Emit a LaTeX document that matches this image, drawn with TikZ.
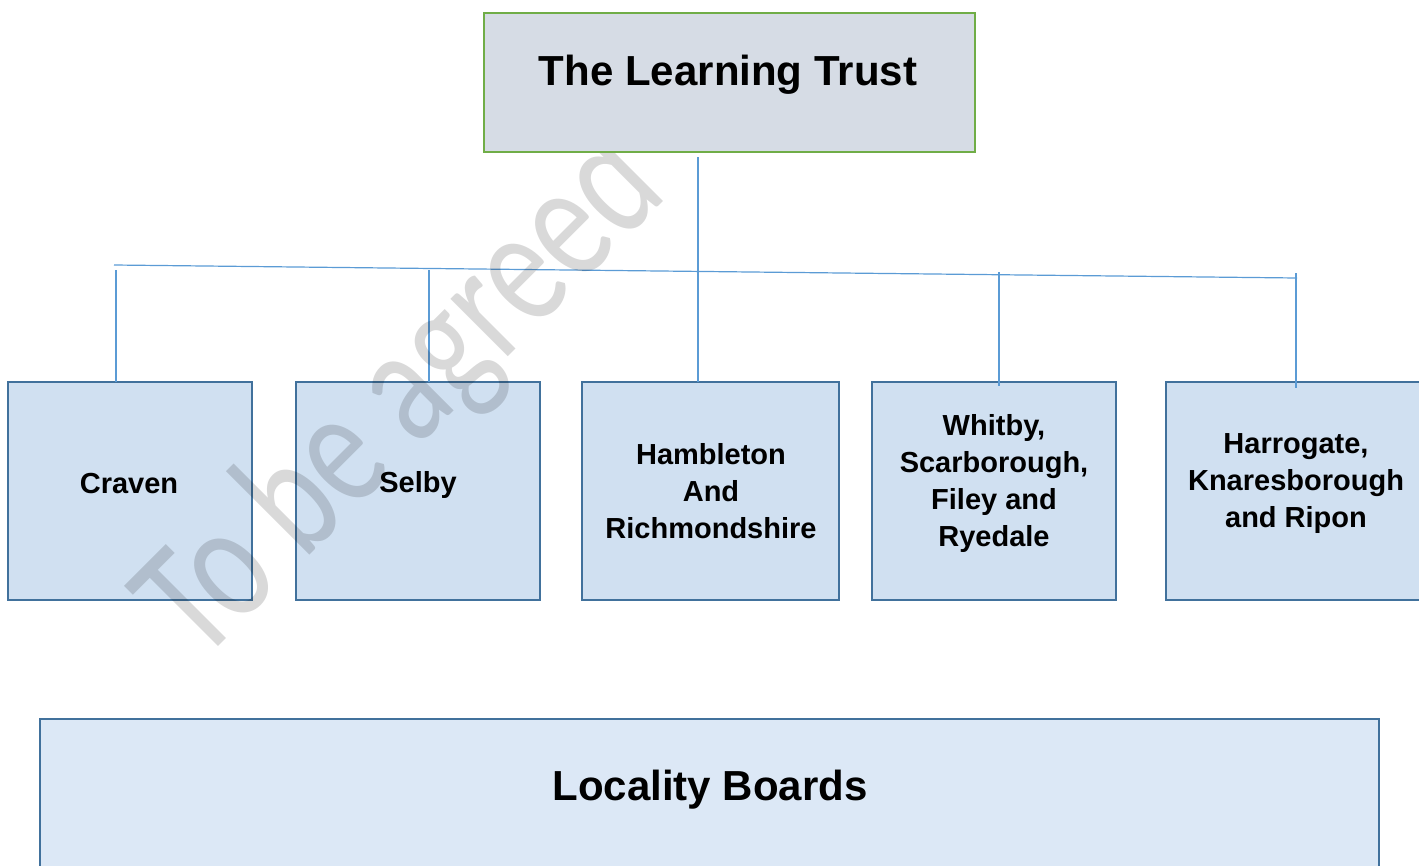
\documentclass[tikz,border=0pt]{standalone}
\usepackage{fontspec}
\setmainfont{Liberation Sans}
\newfontfamily\wmfont{Carlito}
\definecolor{boxborder}{RGB}{65,113,156}
\definecolor{boxfill}{RGB}{208,224,241}
\definecolor{bottomfill}{RGB}{220,232,246}
\definecolor{topfill}{RGB}{214,220,229}
\definecolor{topborder}{RGB}{112,173,71}
\definecolor{connblue}{RGB}{91,155,213}
\begin{document}
\begin{tikzpicture}[x=1pt,y=-1pt,
  box/.style={draw=boxborder, fill=boxfill, line width=2.4pt, minimum width=244pt,
    minimum height=218pt, anchor=north west, inner sep=0pt, outer sep=0pt},
  lbl/.style={font=\fontsize{29}{37}\selectfont\bfseries, align=center, inner sep=0pt},
  big/.style={font=\fontsize{42}{50}\selectfont\bfseries, inner sep=0pt, anchor=base},
  conn/.style={draw=connblue, line width=1.2pt},
  wmark/.style={font=\wmfont\fontsize{170}{170}\selectfont, text=black, text opacity=0.15,
    inner sep=0pt, anchor=base west}]
\useasboundingbox (0,0) rectangle (1419,865);

% locality boxes
\node[box] (craven) at (8,382) {};
\node[box] (selby) at (296,382) {};
\node[box, minimum width=257pt] (hamb) at (582,382) {};
\node[box] (whitby) at (872,382) {};
\node[box, minimum width=270pt] (harro) at (1166,382) {};
\node[box, fill=bottomfill, minimum width=1339pt, minimum height=170pt] (loc) at (40,719) {};

% connectors
\coordinate (hl) at (114,265);
\coordinate (hr) at (1297,278);
\draw[conn] (hl) -- (hr);
\coordinate (tdrop) at (698,157);
\draw[conn] (tdrop) -- (tdrop |- hamb.north);
\coordinate (c1) at (116,270);
\draw[conn] (c1) -- (c1 |- craven.north);
\coordinate (c2) at (429,270);
\draw[conn] (c2) -- (c2 |- selby.north);
\coordinate (c4) at (999,272);
\draw[conn] (c4) -- ([yshift=-4pt]c4 |- whitby.north);
\coordinate (c5) at (1296,273);
\draw[conn] (c5) -- ([yshift=-6pt]c5 |- harro.north);

% watermark
\node[wmark, rotate=45, xscale=0.75] (wm) at (200,665) {To be agreed};

% top box
\node[draw=topborder, fill=topfill, line width=2.4pt, minimum width=491pt, minimum height=139pt,
  anchor=north west, inner sep=0pt] (trust) at (483,12) {};

% texts
\node[big] (trustT) at (728,85) {The Learning Trust};
\node[big] (locT) at (710,800) {Locality Boards};
\node[lbl, anchor=base] (cravenT) at (129,493) {Craven};
\node[lbl, anchor=base] (selbyT) at (418,492) {Selby};
\node[lbl] (hambT) at (711,491) {Hambleton\\And\\Richmondshire};
\node[lbl] (whitbyT) at (994,483.5) {Whitby,\\Scarborough,\\Filey and\\Ryedale};
\node[lbl] (harroT) at (1296,483.5) {Harrogate,\\Knaresborough\\and Ripon};
\end{tikzpicture}
\end{document}
